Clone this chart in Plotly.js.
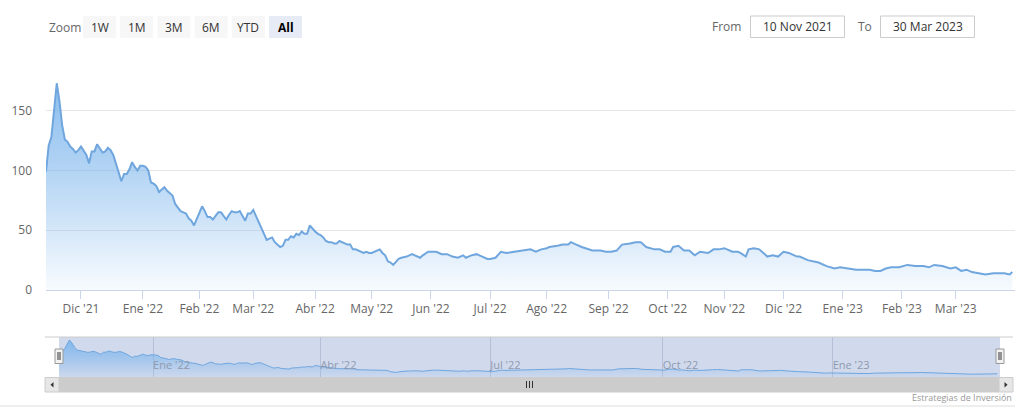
<!DOCTYPE html>
<html>
<head>
<meta charset="utf-8">
<script src="https://cdn.plot.ly/plotly-3.0.1.min.js"></script>
<style>
html,body{margin:0;padding:0;background:#fff;}
#chart{width:1028px;height:418px;}
</style>
</head>
<body>
<div id="chart"></div>
<script>
// ---- data ----
const dates = [
"2021-11-12","2021-11-15","2021-11-16","2021-11-17","2021-11-18","2021-11-19","2021-11-22","2021-11-23","2021-11-24","2021-11-25","2021-11-26","2021-11-29","2021-11-30",
"2021-12-01","2021-12-02","2021-12-03","2021-12-06","2021-12-07","2021-12-08","2021-12-09","2021-12-13","2021-12-14","2021-12-15","2021-12-16","2021-12-17","2021-12-20","2021-12-21","2021-12-22","2021-12-23","2021-12-24","2021-12-27","2021-12-28","2021-12-29","2021-12-30","2021-12-31",
"2022-01-03","2022-01-04","2022-01-05","2022-01-06","2022-01-07","2022-01-10","2022-01-11","2022-01-12","2022-01-13","2022-01-14","2022-01-17","2022-01-18","2022-01-19","2022-01-20","2022-01-21","2022-01-24","2022-01-25","2022-01-26","2022-01-27","2022-01-28","2022-01-31",
"2022-02-01","2022-02-02","2022-02-03","2022-02-04","2022-02-07","2022-02-08","2022-02-09","2022-02-10","2022-02-11","2022-02-14","2022-02-15","2022-02-16","2022-02-17","2022-02-18","2022-02-21","2022-02-22","2022-02-23","2022-02-24","2022-02-25","2022-02-28",
"2022-03-01","2022-03-02","2022-03-03","2022-03-04","2022-03-07","2022-03-08","2022-03-09","2022-03-10","2022-03-11","2022-03-14","2022-03-15","2022-03-16","2022-03-17","2022-03-18","2022-03-21","2022-03-22","2022-03-23","2022-03-24","2022-03-25","2022-03-28","2022-03-29","2022-03-30","2022-03-31",
"2022-04-01","2022-04-04","2022-04-05","2022-04-06","2022-04-07","2022-04-08","2022-04-11","2022-04-12","2022-04-13","2022-04-14","2022-04-18","2022-04-19","2022-04-20","2022-04-21","2022-04-22","2022-04-25","2022-04-27","2022-04-28","2022-04-29",
"2022-05-02","2022-05-04","2022-05-05","2022-05-06","2022-05-09","2022-05-10","2022-05-11","2022-05-12","2022-05-13","2022-05-16","2022-05-17","2022-05-19","2022-05-23","2022-05-24","2022-05-26","2022-05-27","2022-05-31",
"2022-06-01","2022-06-03","2022-06-07","2022-06-09","2022-06-13","2022-06-15","2022-06-17","2022-06-20","2022-06-22","2022-06-24","2022-06-27","2022-06-29","2022-06-30",
"2022-07-01","2022-07-05","2022-07-07","2022-07-11","2022-07-14","2022-07-20","2022-07-22","2022-07-26","2022-07-28",
"2022-08-01","2022-08-02","2022-08-05","2022-08-09","2022-08-11","2022-08-12","2022-08-16","2022-08-18","2022-08-24","2022-08-29","2022-08-31",
"2022-09-02","2022-09-06","2022-09-08","2022-09-13","2022-09-15","2022-09-19","2022-09-21","2022-09-26","2022-09-28","2022-09-30",
"2022-10-04","2022-10-05","2022-10-07","2022-10-11","2022-10-13","2022-10-17","2022-10-19","2022-10-24","2022-10-26","2022-10-28",
"2022-11-01","2022-11-04","2022-11-08","2022-11-09","2022-11-11","2022-11-14","2022-11-16","2022-11-18","2022-11-23","2022-11-25","2022-11-29",
"2022-12-01","2022-12-05","2022-12-08","2022-12-09","2022-12-14","2022-12-20","2022-12-23","2022-12-28","2022-12-30",
"2023-01-04","2023-01-09","2023-01-12","2023-01-16","2023-01-18","2023-01-20","2023-01-24","2023-01-26","2023-01-30","2023-01-31",
"2023-02-03","2023-02-08","2023-02-13","2023-02-15","2023-02-17","2023-02-22","2023-02-27",
"2023-03-01","2023-03-03","2023-03-07","2023-03-09","2023-03-14","2023-03-16","2023-03-21","2023-03-23","2023-03-27","2023-03-29","2023-03-30"
];
const values = [
99,121,128,149,173,158,138,126,124,120,118,115,117,
120,117,113,106,116,116,122,115,116,119,117,113,106,99,91,97,97,101,107,103,100,104,
104,103,100,90,89,87,82,84,86,83,81,79,72,69,66,65,64,60,58,54,59,
65,70,66,61,61,59,62,65,65,62,59,63,66,65,65,66,62,58,64,64,
67,62,58,53,47,42,43,44,40,38,36,37,42,42,45,44,47,46,49,47,47,54,51,
49,47,46,44,41,40,40,39,39,41,39,38,38,34,34,33,31,32,31,
31,33,34,31,29,24,23,21,24,26,27,28,30,29,27,29,32,
32,32,30,30,28,27,29,27,29,30,29,27,26,
26,27,32,31,32,33,34,32,34,
35,36,37,38,38,40,38,36,33,33,32,
32,33,38,39,40,40,36,34,34,32,
32,36,37,33,33,29,32,31,34,34,
35,32,32,31,28,34,35,34,28,29,28,
32,31,28,28,25,23,20,18,19,
18,17,17,17,16,16,18,19,19,19,
21,20,20,19,21,20,18,
19,16,17,15,14,13,14,14,14,13,15
];
const monthTicks = ["2021-12-01","2022-01-03","2022-02-01","2022-03-01","2022-04-01","2022-05-02","2022-06-01","2022-07-01","2022-08-01","2022-09-01","2022-10-03","2022-11-01","2022-12-01","2023-01-02","2023-02-01","2023-03-01"];
const monthLabels = ["Dic '21","Ene '22","Feb '22","Mar '22","Abr '22","May '22","Jun '22","Jul '22","Ago '22","Sep '22","Oct '22","Nov '22","Dic '22","Ene '23","Feb '23","Mar '23"];
const navTicks = ["2022-01-03","2022-04-01","2022-07-01","2022-10-03","2023-01-02"];
const navLabels = ["Ene '22","Abr '22","Jul '22","Oct '22","Ene '23"];
const yTicks = [0,50,100,150,200];
const yLabels = ["0","50","100","150",""];
const zoomButtons = ["1W","1M","3M","6M","YTD","All"];
const fromText = "10 Nov 2021";
const toText = "30 Mar 2023";
const xRange = ["2021-11-12","2023-03-31"];

// ---- layout helpers (pixel -> paper) ----
const L=46, R=13, T=51, B=26, PW=1028-L-R, PH=418-T-B;
const px = x => (x-L)/PW;
const py = y => (418-B-y)/PH;

const lineColor = 'rgb(112,166,222)';
const font = "'Open Sans', 'DejaVu Sans', sans-serif";

const shapes = [];
const annotations = [];

// zoom buttons
annotations.push({xref:'paper',yref:'paper',x:px(47),y:py(27),xanchor:'left',yanchor:'middle',text:'Zoom',showarrow:false,font:{family:font,size:12,color:'#666'}});
zoomButtons.forEach((b,i)=>{
  const x0 = 83 + i*37.2, x1 = x0+33;
  const sel = b==='All';
  shapes.push({type:'rect',xref:'paper',yref:'paper',x0:px(x0),x1:px(x1),y0:py(38),y1:py(16),fillcolor: sel?'#e6ebf5':'#f7f7f7',line:{width:0}});
  annotations.push({xref:'paper',yref:'paper',x:px((x0+x1)/2),y:py(27),xanchor:'center',yanchor:'middle',text: sel?'<b>'+b+'</b>':b,showarrow:false,font:{family:font,size:12,color: sel?'#000':'#333'}});
});
// from / to inputs
annotations.push({xref:'paper',yref:'paper',x:px(743),y:py(26.5),xanchor:'right',yanchor:'middle',text:'From',showarrow:false,font:{family:font,size:12,color:'#666'}});
annotations.push({xref:'paper',yref:'paper',x:px(856),y:py(26.5),xanchor:'left',yanchor:'middle',text:'To',showarrow:false,font:{family:font,size:12,color:'#666'}});
shapes.push({type:'rect',xref:'paper',yref:'paper',x0:px(750.5),x1:px(844.5),y0:py(37.5),y1:py(16),fillcolor:'#fff',line:{color:'#cccccc',width:1}});
shapes.push({type:'rect',xref:'paper',yref:'paper',x0:px(880.5),x1:px(974.5),y0:py(37.5),y1:py(16),fillcolor:'#fff',line:{color:'#cccccc',width:1}});
annotations.push({xref:'paper',yref:'paper',x:px(797.5),y:py(26.5),xanchor:'center',yanchor:'middle',text:fromText,showarrow:false,font:{family:font,size:12,color:'#333'}});
annotations.push({xref:'paper',yref:'paper',x:px(927.5),y:py(26.5),xanchor:'center',yanchor:'middle',text:toText,showarrow:false,font:{family:font,size:12,color:'#333'}});

// navigator mask + outline
shapes.push({type:'rect',xref:'x2 domain',yref:'y2 domain',x0:0,x1:1,y0:0,y1:1,fillcolor:'rgba(102,133,194,0.3)',line:{width:0},layer:'below'});
shapes.push({type:'line',xref:'paper',yref:'paper',x0:px(45),x1:px(1013),y0:py(337),y1:py(337),line:{color:'#cccccc',width:1}});
// scrollbar
shapes.push({type:'rect',xref:'paper',yref:'paper',x0:px(59),x1:px(999),y0:py(392),y1:py(377.5),fillcolor:'#cccccc',line:{color:'#cccccc',width:1}});
shapes.push({type:'rect',xref:'paper',yref:'paper',x0:px(45),x1:px(59),y0:py(392),y1:py(377.5),fillcolor:'#e6e6e6',line:{color:'#cccccc',width:1}});
shapes.push({type:'rect',xref:'paper',yref:'paper',x0:px(999),x1:px(1013),y0:py(392),y1:py(377.5),fillcolor:'#e6e6e6',line:{color:'#cccccc',width:1}});
shapes.push({type:'path',xref:'paper',yref:'paper',path:`M ${px(53.5)} ${py(382)} L ${px(53.5)} ${py(387.5)} L ${px(50.5)} ${py(384.75)} Z`,fillcolor:'#333',line:{width:0}});
shapes.push({type:'path',xref:'paper',yref:'paper',path:`M ${px(1004.5)} ${py(382)} L ${px(1004.5)} ${py(387.5)} L ${px(1007.5)} ${py(384.75)} Z`,fillcolor:'#333',line:{width:0}});
[526.5,529.5,532.5].forEach(x=>shapes.push({type:'line',xref:'paper',yref:'paper',x0:px(x),x1:px(x),y0:py(381),y1:py(388),line:{color:'#333',width:1}}));
// handles
[[55,63],[996,1004]].forEach(([a,b])=>{
  shapes.push({type:'rect',xref:'paper',yref:'paper',x0:px(a),x1:px(b),y0:py(363.5),y1:py(349),fillcolor:'#f2f2f2',line:{color:'#999',width:1}});
  shapes.push({type:'line',xref:'paper',yref:'paper',x0:px(a+3),x1:px(a+3),y0:py(352),y1:py(360),line:{color:'#333',width:1}});
  shapes.push({type:'line',xref:'paper',yref:'paper',x0:px(a+5),x1:px(a+5),y0:py(352),y1:py(360),line:{color:'#333',width:1}});
});
// bottom separator + credits
shapes.push({type:'line',xref:'paper',yref:'paper',x0:px(0),x1:px(1015),y0:py(406),y1:py(406),line:{color:'#dddddd',width:1}});
annotations.push({xref:'paper',yref:'paper',x:px(1014),y:py(397.5),xanchor:'right',yanchor:'middle',text:'Estrategias de Inversión',showarrow:false,font:{family:font,size:9,color:'#999'}});

const grad = (top) => ({type:'vertical',start:0,stop:top,colorscale:[[0,'rgba(124,181,236,0.06)'],[0.5,'rgba(124,181,236,0.58)'],[1,'rgba(124,181,236,1)']]});

const traces = [
  {x:dates,y:values,type:'scatter',mode:'lines',xaxis:'x',yaxis:'y',line:{color:lineColor,width:2},fill:'tozeroy',fillgradient:grad(200),hoverinfo:'skip'},
  {x:dates,y:values,type:'scatter',mode:'lines',xaxis:'x2',yaxis:'y2',line:{color:lineColor,width:1},fill:'tozeroy',fillgradient:grad(187),hoverinfo:'skip'}
];

const rb = [{bounds:['sat','mon']}];
const layout = {
  width:1028,height:418,
  margin:{l:L,r:R,t:T,b:B,pad:0},
  paper_bgcolor:'#fff',plot_bgcolor:'rgba(0,0,0,0)',
  showlegend:false,
  font:{family:font,size:12,color:'#666'},
  xaxis:{type:'date',domain:[0,1],anchor:'y',range:xRange,rangebreaks:rb,tickmode:'array',tickvals:monthTicks,ticktext:monthLabels,
    ticks:'outside',ticklen:8,tickcolor:'#ccd6eb',showline:true,linecolor:'#ccd6eb',linewidth:1,showgrid:false,zeroline:false,
    tickfont:{family:font,size:12,color:'#666'},fixedrange:true,automargin:false},
  yaxis:{domain:[py(290),1],anchor:'x',range:[0,200],tickmode:'array',tickvals:yTicks,ticktext:yLabels,showgrid:true,gridcolor:'#e6e6e6',gridwidth:1,
    zeroline:false,showline:false,ticks:'',ticklabelstandoff:13,tickfont:{family:font,size:12,color:'#666'},fixedrange:true,automargin:false},
  xaxis2:{type:'date',domain:[px(59),px(1000)],anchor:'y2',range:xRange,rangebreaks:rb,tickmode:'array',tickvals:navTicks,ticktext:navLabels,
    ticks:'',showline:false,showgrid:true,gridcolor:'rgba(80,100,140,0.22)',gridwidth:1,zeroline:false,ticklabelposition:'inside right',
    tickfont:{family:font,size:11,color:'#8e99ad'},fixedrange:true,automargin:false},
  yaxis2:{domain:[py(377),py(337)],anchor:'x2',range:[0,187],showgrid:false,zeroline:false,showline:false,showticklabels:false,ticks:'',fixedrange:true},
  shapes:shapes,
  annotations:annotations
};
Plotly.newPlot('chart',traces,layout,{displayModeBar:false,staticPlot:true});
</script>
</body>
</html>
